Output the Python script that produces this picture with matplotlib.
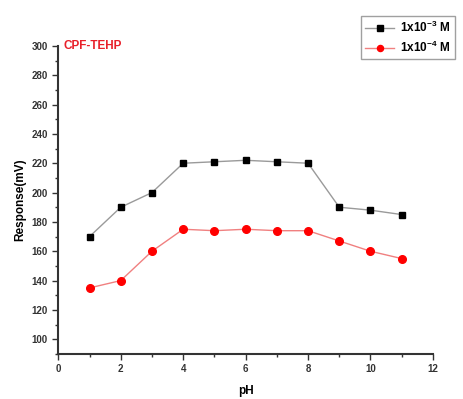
import matplotlib
matplotlib.use("Agg")
import matplotlib.pyplot as plt
from matplotlib.ticker import MultipleLocator

ph = [1, 2, 3, 4, 5, 6, 7, 8, 9, 10, 11]
resp_1e3 = [170, 190, 200, 220, 221, 222, 221, 220, 190, 188, 185]
resp_1e4 = [135, 140, 160, 175, 174, 175, 174, 174, 167, 160, 155]
labels = [r"1x10$^{\mathbf{-3}}$ M", r"1x10$^{\mathbf{-4}}$ M"]

plt.rcParams['font.family'] = ['Liberation Sans', 'DejaVu Sans']
plt.rcParams['mathtext.fontset'] = 'custom'
plt.rcParams['mathtext.rm'] = 'Liberation Sans:bold'
plt.rcParams['mathtext.bf'] = 'Liberation Sans:bold'

fig = plt.figure(figsize=(4.63, 3.99), dpi=100)
ax = fig.add_axes([0.126, 0.113, 0.809, 0.772])

l1, = ax.plot(ph, resp_1e3, color='#9a9a9a', lw=1.0, marker='s', ms=5,
              mfc='black', mec='black', label=labels[0])
l2, = ax.plot(ph, resp_1e4, color='#f08080', lw=1.0, marker='o', ms=5.5,
              mfc='red', mec='red', label=labels[1])

ax.set_xlim(0, 12)
ax.set_ylim(90, 300)
ax.xaxis.set_major_locator(MultipleLocator(2))
ax.xaxis.set_minor_locator(MultipleLocator(1))
ax.set_yticks(range(100, 301, 20))
ax.yaxis.set_minor_locator(MultipleLocator(10))
for s in ['top', 'right']:
    ax.spines[s].set_visible(False)
for s in ['left', 'bottom']:
    ax.spines[s].set_linewidth(1.5)
    ax.spines[s].set_color('#333333')
ax.tick_params(which='major', direction='out', length=4, width=1, labelsize=7, colors='#333333')
ax.tick_params(which='minor', direction='out', length=2, width=1, colors='#333333')
for t in ax.get_xticklabels() + ax.get_yticklabels():
    t.set_fontweight('bold')

ax.set_xlabel('pH', fontsize=8.5, fontweight='bold', labelpad=8)
ax.set_ylabel('Response(mV)', fontsize=8.5, fontweight='bold', labelpad=4)

ax.text(0.013, 1.0, 'CPF-TEHP', transform=ax.transAxes, color='#e8202a',
        fontsize=8.5, fontweight='bold', va='center', ha='left')

leg = fig.legend(handles=[l1, l2], loc='upper right', bbox_to_anchor=(0.995, 0.975),
                 prop={'weight': 'bold', 'size': 8.5}, frameon=True,
                 fancybox=False, edgecolor='#888888', handlelength=2.5,
                 borderpad=0.35, labelspacing=0.4, handletextpad=0.5,
                 markerscale=0.8)
leg.get_frame().set_linewidth(1.0)

fig.savefig('out.png', dpi=100)
